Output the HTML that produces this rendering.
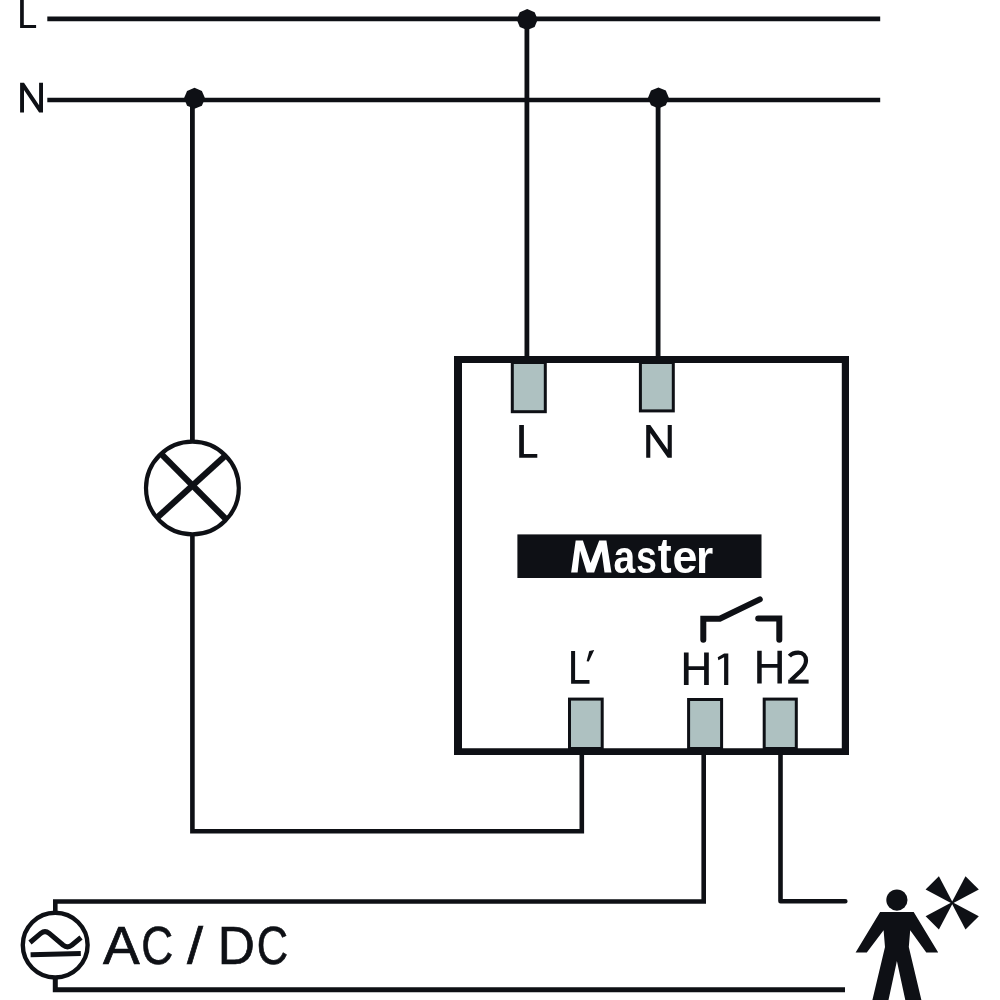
<!DOCTYPE html>
<html><head><meta charset="utf-8"><style>
html,body{margin:0;padding:0;background:#ffffff;}
svg{display:block;will-change:transform;}
text{font-family:"Liberation Sans",sans-serif;}
</style></head><body>
<svg width="1000" height="1000" viewBox="0 0 1000 1000">
<rect width="1000" height="1000" fill="#ffffff"/>
<line x1="47.3" y1="18.9" x2="880.2" y2="18.9" stroke="#0e1015" stroke-width="4.6"/>
<line x1="47.3" y1="99.95" x2="880.2" y2="99.95" stroke="#0e1015" stroke-width="4.6"/>
<line x1="526.9" y1="19" x2="526.9" y2="360" stroke="#0e1015" stroke-width="4.8"/>
<line x1="658.1" y1="98" x2="658.1" y2="360" stroke="#0e1015" stroke-width="4.8"/>
<line x1="192.4" y1="98" x2="192.4" y2="442" stroke="#0e1015" stroke-width="4.8"/>
<polyline points="192.4,534 192.4,831.25 581.8,831.25 581.8,750" fill="none" stroke="#0e1015" stroke-width="4.6" stroke-linejoin="miter"/>
<polygon points="527.20,9.10 534.62,12.18 537.70,19.60 534.62,27.02 527.20,30.10 519.78,27.02 516.70,19.60 519.78,12.18" fill="#0e1015"/>
<polygon points="194.50,87.80 201.92,90.88 205.00,98.30 201.92,105.72 194.50,108.80 187.08,105.72 184.00,98.30 187.08,90.88" fill="#0e1015"/>
<polygon points="658.40,87.40 665.82,90.48 668.90,97.90 665.82,105.32 658.40,108.40 650.98,105.32 647.90,97.90 650.98,90.48" fill="#0e1015"/>
<circle cx="192.4" cy="488" r="46.4" fill="none" stroke="#0e1015" stroke-width="4.2"/>
<line x1="160.9" y1="453.6" x2="225.8" y2="519" stroke="#0e1015" stroke-width="6.2"/>
<line x1="225.8" y1="455.3" x2="157.4" y2="517.4" stroke="#0e1015" stroke-width="6.2"/>
<path d="M454,356 H849 V755 H454 Z M462,363.1 V748.3 H841.8 V363.1 Z" fill="#0e1015" fill-rule="evenodd"/>
<rect x="512.30" y="362.50" width="33.00" height="49.20" fill="#aec1c1" stroke="#0e1015" stroke-width="3.0"/>
<rect x="640.40" y="362.50" width="32.90" height="48.40" fill="#aec1c1" stroke="#0e1015" stroke-width="3.0"/>
<rect x="569.50" y="699.10" width="32.70" height="49.40" fill="#aec1c1" stroke="#0e1015" stroke-width="3.0"/>
<rect x="688.60" y="699.50" width="33.00" height="49.00" fill="#aec1c1" stroke="#0e1015" stroke-width="3.0"/>
<rect x="764.20" y="699.10" width="32.10" height="49.40" fill="#aec1c1" stroke="#0e1015" stroke-width="3.0"/>
<polygon points="519.20,425.00 523.90,425.00 523.90,454.10 537.30,454.10 537.30,457.70 519.20,457.70" fill="#0e1015"/>
<polygon points="646.20,457.70 646.20,425.00 650.30,425.00 667.70,449.70 667.70,425.00 671.80,425.00 671.80,457.70 667.70,457.70 650.30,433.00 650.30,457.70" fill="#0e1015"/>
<polygon points="20.10,-2.00 23.80,-2.00 23.80,24.90 36.10,24.90 36.10,28.10 20.10,28.10" fill="#0e1015"/>
<polygon points="20.10,112.40 20.10,82.70 24.00,82.70 39.10,105.20 39.10,82.70 43.00,82.70 43.00,112.40 39.10,112.40 24.00,89.90 24.00,112.40" fill="#0e1015"/>
<rect x="517.4" y="534.4" width="244.1" height="43.6" fill="#0e1015"/>
<polygon points="571.12,572.49 575.68,540.56 582.88,540.56 590.56,562.88 599.20,540.56 606.41,540.56 611.45,572.49 604.49,572.49 601.61,551.36 594.16,572.49 586.72,572.49 580.00,550.40 577.60,572.49" fill="#ffffff"/>
<text transform="translate(613.46,573.20) scale(0.8533,1)" font-size="45.72" font-weight="bold" fill="#ffffff">a</text>
<text transform="translate(636.08,573.20) scale(0.8210,1)" font-size="45.68" font-weight="bold" fill="#ffffff">s</text>
<text transform="translate(657.69,573.20) scale(0.8300,1)" font-size="49.97" font-weight="bold" fill="#ffffff">t</text>
<text transform="translate(672.45,573.20) scale(0.9784,1)" font-size="45.72" font-weight="bold" fill="#ffffff">e</text>
<text transform="translate(696.09,573.20) scale(0.9664,1)" font-size="45.68" font-weight="bold" fill="#ffffff">r</text>
<polygon points="571.10,650.90 575.10,650.90 575.10,680.10 589.50,680.10 589.50,683.70 571.10,683.70" fill="#0e1015"/>
<polygon points="589.30,651.00 594.20,650.10 588.80,661.60 586.60,661.30" fill="#0e1015"/>
<polygon points="683.90,652.50 688.60,652.50 688.60,666.30 704.10,666.30 704.10,652.50 708.80,652.50 708.80,684.90 704.10,684.90 704.10,669.90 688.60,669.90 688.60,684.90 683.90,684.90" fill="#0e1015"/>
<polygon points="724.10,653.40 728.30,653.40 728.30,684.90 724.10,684.90 724.10,657.20 718.40,660.30 717.70,657.20" fill="#0e1015"/>
<polygon points="757.20,650.80 761.70,650.80 761.70,664.10 777.40,664.10 777.40,650.80 781.90,650.80 781.90,683.60 777.40,683.60 777.40,667.70 761.70,667.70 761.70,683.60 757.20,683.60" fill="#0e1015"/>
<path d="M789.4,656.2 C791.6,653.6 794.8,652.7 798.2,652.7 C803.2,652.7 806,655.9 806,660.4 C806,664.3 804.1,667.3 800.8,670.9 L790.6,680.6" fill="none" stroke="#0e1015" stroke-width="4.2"/>
<rect x="788.2" y="679.6" width="20.4" height="4.0" fill="#0e1015"/>
<path d="M703.3,639.8 V618.8 H719.8 L759.8,599.4" fill="none" stroke="#0e1015" stroke-width="6" stroke-linecap="round" stroke-linejoin="miter"/>
<path d="M758.2,618.6 H779.3 V639.8" fill="none" stroke="#0e1015" stroke-width="6" stroke-linecap="round" stroke-linejoin="miter"/>
<polyline points="703.7,750 703.7,901.5 55.3,901.5 55.3,913" fill="none" stroke="#0e1015" stroke-width="4.6" stroke-linejoin="miter"/>
<polyline points="780.5,750 780.5,901.3 845.3,901.3" fill="none" stroke="#0e1015" stroke-width="4.6" stroke-linejoin="round" stroke-linecap="round"/>
<polyline points="55.3,977 55.3,989.8 845,989.8" fill="none" stroke="#0e1015" stroke-width="5" stroke-linejoin="miter"/>
<circle cx="55.2" cy="945.1" r="32.4" fill="none" stroke="#0e1015" stroke-width="4.4"/>
<path d="M30,942.5 L41,933.2 Q45,930 49,933.2 L63,945 Q67.5,948.6 72,945 L81,937.5" fill="none" stroke="#0e1015" stroke-width="5"/>
<line x1="30.6" y1="954.8" x2="80.8" y2="953.6" stroke="#0e1015" stroke-width="5"/>
<text stroke="#0e1015" stroke-width="0.7" transform="translate(102.89,964.20) scale(1.0235,1)" font-size="53.78" font-weight="normal" fill="#0e1015">A</text>
<text stroke="#0e1015" stroke-width="0.7" transform="translate(141.25,964.00) scale(0.8232,1)" font-size="53.71" font-weight="normal" fill="#0e1015">C</text>
<text stroke="#0e1015" stroke-width="0.7" transform="translate(187.00,963.90) scale(1.1309,1)" font-size="50.92" font-weight="normal" fill="#0e1015">/</text>
<text stroke="#0e1015" stroke-width="0.7" transform="translate(217.78,964.20) scale(0.9575,1)" font-size="53.78" font-weight="normal" fill="#0e1015">D</text>
<text stroke="#0e1015" stroke-width="0.7" transform="translate(256.79,964.00) scale(0.8085,1)" font-size="53.71" font-weight="normal" fill="#0e1015">C</text>
<polygon points="880.10,912.00 913.70,912.00 938.20,952.60 926.30,952.60 910.20,930.20 908.80,947.00 921.40,1000.00 905.30,1000.00 896.90,961.00 888.50,1000.00 872.40,1000.00 885.00,947.00 883.60,930.20 866.80,952.60 855.60,952.60" fill="#0e1015"/>
<circle cx="896.9" cy="900.1" r="10.6" fill="#0e1015"/>
<polygon points="953.76,904.46 925.60,889.60 938.90,876.30" fill="#0e1015"/>
<polygon points="950.64,904.46 965.50,876.30 978.80,889.60" fill="#0e1015"/>
<polygon points="953.76,901.34 925.60,916.20 938.90,929.50" fill="#0e1015"/>
<polygon points="950.64,901.34 965.50,929.50 978.80,916.20" fill="#0e1015"/>
</svg>
</body></html>
